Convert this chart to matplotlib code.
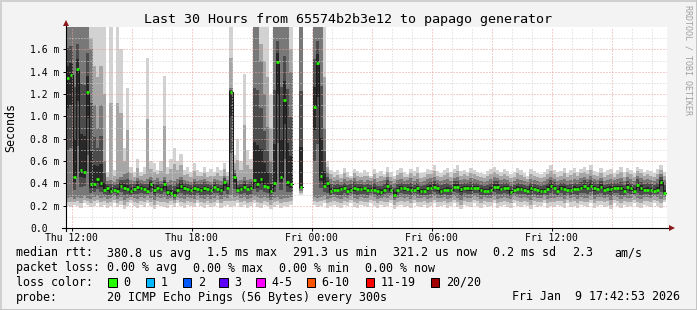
import numpy as np
import matplotlib.pyplot as plt
from matplotlib.patches import Rectangle

nan = np.nan

# one column = 10 minutes, start is Thu 11:42:53, 30 hours shown
STEP_H = 10 / 60.0
FIRST_TICK_H = 17.12 / 60.0     # Thu 12:00 relative to start

# median rtt per column (ms)
med = [1.34, 1.37, 0.46, 1.42, 0.52, 0.50, 1.22, 0.39, 0.39, 0.44,
       0.40, 0.34, 0.36, 0.33, 0.34, 0.33, 0.38, 0.36, 0.35, 0.33,
       0.35, 0.37, 0.36, 0.35, 0.33, 0.39, 0.34, 0.36, 0.35, 0.39,
       0.32, 0.31, 0.30, 0.34, 0.38, 0.36, 0.35, 0.34, 0.36, 0.35,
       0.34, 0.36, 0.35, 0.34, 0.37, 0.35, 0.34, 0.41, 0.36, 1.22,
       0.46, 0.34, 0.35, 0.37, 0.35, 0.36, 0.43, 0.39, 0.44, 0.38,
       0.37, 0.33, 0.40, 1.49, 0.46, 1.15, 0.41, 0.39, nan, nan,
       0.37, nan, nan, nan, 1.08, 1.48, 0.47, 0.38, 0.40, 0.33,
       0.34, 0.34, 0.35, 0.355, 0.33, 0.34, 0.355, 0.35, 0.35, 0.355,
       0.34, 0.34, 0.34, 0.33, 0.32, 0.34, 0.38, 0.34, 0.30, 0.34,
       0.355, 0.355, 0.35, 0.34, 0.34, 0.355, 0.33, 0.33, 0.355, 0.36,
       0.37, 0.355, 0.33, 0.34, 0.34, 0.34, 0.37, 0.37, 0.35, 0.355,
       0.355, 0.355, 0.355, 0.355, 0.34, 0.33, 0.33, 0.34, 0.37, 0.37,
       0.35, 0.355, 0.355, 0.32, 0.34, 0.35, 0.35, 0.34, 0.33, 0.355,
       0.35, 0.34, 0.33, 0.33, 0.35, 0.38, 0.36, 0.33, 0.355, 0.35,
       0.34, 0.34, 0.35, 0.35, 0.355, 0.375, 0.36, 0.38, 0.36, 0.35,
       0.37, 0.34, 0.345, 0.35, 0.355, 0.355, 0.355, 0.33, 0.37, 0.355,
       0.33, 0.385, 0.36, 0.34, 0.34, 0.34, 0.33, 0.34, 0.415, 0.31]

# smoke: fastest ping per column
smoke_min = [0.20, 0.19, 0.21, 0.20, 0.18, 0.22, 0.21, 0.19, 0.20, 0.22,
             0.19, 0.21, 0.18, 0.20, 0.22, 0.19, 0.21, 0.17, 0.20, 0.22,
             0.20, 0.18, 0.21, 0.19, 0.22, 0.20, 0.17, 0.21, 0.20, 0.19,
             0.18, 0.21, 0.19, 0.22, 0.20, 0.18, 0.21, 0.20, 0.19, 0.22,
             0.20, 0.18, 0.21, 0.19, 0.20, 0.22, 0.18, 0.20, 0.21, 0.19,
             0.20, 0.22, 0.19, 0.21, 0.18, 0.20, 0.22, 0.19, 0.18, 0.21,
             0.20, 0.17, 0.19, 0.21, 0.18, 0.20, 0.19, 0.21, nan, nan,
             0.30, nan, nan, nan, 0.21, 0.19, 0.20, 0.22, 0.18, 0.20,
             0.21, 0.19, 0.18, 0.21, 0.20, 0.22, 0.19, 0.18, 0.21, 0.20,
             0.19, 0.22, 0.20, 0.18, 0.21, 0.19, 0.20, 0.22, 0.17, 0.20,
             0.21, 0.19, 0.20, 0.18, 0.22, 0.20, 0.19, 0.21, 0.18, 0.20,
             0.22, 0.19, 0.20, 0.21, 0.18, 0.20, 0.22, 0.19, 0.17, 0.21,
             0.20, 0.19, 0.22, 0.20, 0.18, 0.21, 0.19, 0.20, 0.22, 0.18,
             0.20, 0.21, 0.19, 0.18, 0.22, 0.20, 0.19, 0.21, 0.20, 0.17,
             0.21, 0.19, 0.20, 0.22, 0.18, 0.20, 0.19, 0.21, 0.20, 0.18,
             0.22, 0.19, 0.20, 0.18, 0.21, 0.20, 0.19, 0.22, 0.18, 0.20,
             0.21, 0.19, 0.20, 0.17, 0.22, 0.20, 0.18, 0.21, 0.19, 0.20,
             0.22, 0.19, 0.18, 0.21, 0.20, 0.19, 0.22, 0.20, 0.18, 0.23]

# smoke: lower edge of the dense part
smoke_lo = [0.27, 0.28, 0.26, 0.28, 0.27, 0.29, 0.27, 0.26, 0.28, 0.29,
            0.27, 0.28, 0.26, 0.27, 0.29, 0.26, 0.28, 0.25, 0.27, 0.28,
            0.27, 0.26, 0.28, 0.27, 0.29, 0.27, 0.25, 0.28, 0.27, 0.28,
            0.26, 0.27, 0.25, 0.28, 0.27, 0.26, 0.28, 0.27, 0.26, 0.29,
            0.27, 0.26, 0.28, 0.26, 0.27, 0.29, 0.26, 0.28, 0.27, 0.30,
            0.28, 0.29, 0.27, 0.28, 0.26, 0.27, 0.29, 0.28, 0.27, 0.28,
            0.27, 0.25, 0.27, 0.28, 0.26, 0.27, 0.27, 0.28, nan, nan,
            0.33, nan, nan, nan, 0.28, 0.27, 0.28, 0.29, 0.26, 0.27,
            0.28, 0.27, 0.26, 0.28, 0.27, 0.29, 0.27, 0.26, 0.28, 0.27,
            0.27, 0.29, 0.28, 0.26, 0.27, 0.28, 0.27, 0.29, 0.25, 0.27,
            0.28, 0.27, 0.28, 0.26, 0.29, 0.27, 0.27, 0.28, 0.26, 0.27,
            0.29, 0.27, 0.27, 0.28, 0.26, 0.27, 0.29, 0.27, 0.25, 0.28,
            0.27, 0.27, 0.29, 0.28, 0.26, 0.28, 0.27, 0.27, 0.29, 0.26,
            0.27, 0.28, 0.27, 0.26, 0.29, 0.28, 0.27, 0.28, 0.27, 0.25,
            0.28, 0.27, 0.27, 0.29, 0.26, 0.27, 0.27, 0.28, 0.28, 0.26,
            0.29, 0.27, 0.28, 0.26, 0.28, 0.27, 0.27, 0.29, 0.26, 0.28,
            0.28, 0.27, 0.28, 0.25, 0.29, 0.28, 0.26, 0.28, 0.27, 0.27,
            0.29, 0.27, 0.26, 0.28, 0.28, 0.27, 0.29, 0.28, 0.26, 0.28]

# smoke: upper edge of the dense part
smoke_hi = [1.80, 1.80, 1.80, 1.80, 1.80, 1.80, 1.80, 1.60, 1.10, 0.90,
            1.10, 0.60, 0.42, 0.43, 0.41, 0.44, 0.46, 0.48, 0.50, 0.43,
            0.42, 0.45, 0.43, 0.42, 0.44, 0.46, 0.43, 0.45, 0.42, 0.46,
            0.41, 0.43, 0.42, 0.44, 0.46, 0.43, 0.42, 0.41, 0.44, 0.42,
            0.43, 0.44, 0.42, 0.41, 0.44, 0.43, 0.42, 0.47, 0.43, 1.25,
            0.52, 0.42, 0.43, 0.46, 0.43, 0.44, 1.80, 1.80, 1.50, 1.20,
            0.90, 0.60, 1.80, 1.80, 1.80, 1.80, 1.80, 1.40, nan, nan,
            1.80, nan, nan, nan, 1.80, 1.80, 1.80, 0.90, 0.50, 0.44,
            0.42, 0.43, 0.41, 0.44, 0.42, 0.43, 0.45, 0.42, 0.43, 0.41,
            0.43, 0.42, 0.44, 0.41, 0.42, 0.43, 0.46, 0.42, 0.40, 0.43,
            0.44, 0.42, 0.43, 0.45, 0.42, 0.44, 0.41, 0.42, 0.44, 0.45,
            0.46, 0.43, 0.42, 0.43, 0.44, 0.42, 0.45, 0.46, 0.43, 0.44,
            0.43, 0.45, 0.44, 0.43, 0.42, 0.41, 0.42, 0.44, 0.46, 0.45,
            0.43, 0.44, 0.43, 0.41, 0.42, 0.44, 0.43, 0.42, 0.41, 0.44,
            0.43, 0.42, 0.41, 0.42, 0.44, 0.46, 0.44, 0.42, 0.43, 0.44,
            0.42, 0.43, 0.44, 0.43, 0.45, 0.46, 0.44, 0.47, 0.44, 0.43,
            0.45, 0.42, 0.43, 0.44, 0.43, 0.44, 0.45, 0.42, 0.46, 0.44,
            0.42, 0.47, 0.45, 0.43, 0.44, 0.43, 0.42, 0.44, 0.48, 0.43]

# smoke: slowest ping per column (1.8 = off the top)
smoke_max = [1.80, 1.80, 1.80, 1.80, 1.80, 1.80, 1.80, 1.80, 1.80, 1.80,
             1.80, 1.80, 0.50, 1.80, 0.52, 1.80, 1.60, 0.72, 1.25, 0.55,
             0.50, 0.62, 0.50, 0.55, 1.52, 0.60, 0.58, 0.52, 0.60, 1.36,
             0.55, 0.62, 0.72, 0.60, 0.66, 0.52, 0.55, 0.50, 0.58, 0.52,
             0.50, 0.55, 0.50, 0.53, 0.50, 0.55, 0.52, 0.58, 0.50, 1.80,
             0.65, 0.80, 0.60, 1.38, 0.70, 0.62, 1.80, 1.80, 1.80, 1.80,
             1.80, 1.19, 1.80, 1.80, 1.80, 1.80, 1.80, 1.80, nan, nan,
             1.80, nan, nan, nan, 1.80, 1.80, 1.80, 1.80, 0.60, 0.52,
             0.50, 0.52, 0.48, 0.54, 0.50, 0.47, 0.53, 0.51, 0.49, 0.52,
             0.50, 0.47, 0.53, 0.49, 0.51, 0.48, 0.55, 0.50, 0.47, 0.52,
             0.54, 0.50, 0.48, 0.53, 0.51, 0.55, 0.49, 0.50, 0.53, 0.52,
             0.56, 0.51, 0.49, 0.52, 0.54, 0.50, 0.53, 0.56, 0.51, 0.52,
             0.50, 0.54, 0.52, 0.50, 0.49, 0.48, 0.51, 0.53, 0.55, 0.52,
             0.50, 0.53, 0.51, 0.48, 0.50, 0.54, 0.52, 0.49, 0.47, 0.53,
             0.51, 0.49, 0.48, 0.50, 0.53, 0.56, 0.52, 0.50, 0.51, 0.54,
             0.49, 0.52, 0.54, 0.50, 0.53, 0.55, 0.52, 0.56, 0.51, 0.50,
             0.54, 0.50, 0.52, 0.53, 0.49, 0.52, 0.55, 0.50, 0.54, 0.52,
             0.49, 0.55, 0.53, 0.50, 0.52, 0.51, 0.49, 0.53, 0.56, 0.50]

xtick_labels = ['Thu 12:00', 'Thu 18:00', 'Fri 00:00', 'Fri 06:00', 'Fri 12:00']
ytick_values = [0.0, 0.2, 0.4, 0.6, 0.8, 1.0, 1.2, 1.4, 1.6]
ytick_labels = ['0.0', '0.2 m', '0.4 m', '0.6 m', '0.8 m', '1.0 m', '1.2 m', '1.4 m', '1.6 m']

loss_labels = ['0', '1', '2', '3', '4-5', '6-10', '11-19', '20/20']
loss_colors = ['#26ff00', '#00b8ff', '#0059ff', '#5e00ff', '#ff00ff', '#ff5500', '#ff0000', '#a10000']

W, H = 697, 310
MONO = 'DejaVu Sans Mono'

fig = plt.figure(figsize=(W / 100, H / 100), dpi=100, facecolor='#f3f3f3')
ax = fig.add_axes([66 / W, (H - 228) / H, 601 / W, 201 / H])
ax.set_facecolor('white')
ax.set_xlim(0, 30.05)
ax.set_ylim(0, 1.8)

md = np.array(med)
mn = np.array(smoke_min)
lo = np.array(smoke_lo)
hi = np.array(smoke_hi)
mx = np.array(smoke_max)
t = np.arange(len(md)) * STEP_H

# smoke layers, lightest outside, darkest around the median
layers = [
    (mn, mx),
    ((mn + lo) / 2, (mx + hi) / 2),
    (lo, hi),
    (lo + (md - lo) * 0.4, hi - (hi - md) * 0.4),
    (lo + (md - lo) * 0.75, hi - (hi - md) * 0.75),
]
shades = ['#d2d2d2', '#a6a6a6', '#787878', '#4c4c4c', '#282828']
for (bot, top), c in zip(layers, shades):
    ax.bar(t, top - bot, bottom=bot, width=STEP_H, align='edge', color=c,
           linewidth=0, antialiased=False, zorder=1)

# dotted grid on top of the smoke
for k, h in enumerate(np.arange(FIRST_TICK_H, 30.05, 1.0)):
    col = '#e6a0a0' if k % 3 == 0 else '#d2d2d2'
    ax.axvline(h, color=col, lw=0.72, ls=(0, (1, 2)), zorder=2)
for k in range(1, 18):
    col = '#e6a0a0' if k % 2 == 0 else '#d2d2d2'
    ax.axhline(k * 0.1, color=col, lw=0.72, ls=(0, (1, 2)), zorder=2)

# median line
t_edge = np.append(t, t[-1] + STEP_H)
ax.step(t_edge, np.append(md, md[-1]), where='post', color='#1a1a1a', lw=0.72, zorder=3)
ax.hlines(md, t + STEP_H * 0.1, t + STEP_H * 0.9, colors='#26ff00', lw=1.9, zorder=4)

# axes with arrows
for s in ax.spines.values():
    s.set_visible(False)
ax.plot([-4 / 601, 1 + 3 / 601], [0, 0], transform=ax.transAxes, color='black',
        lw=0.8, clip_on=False, zorder=5)
ax.plot([0, 0], [-3 / 201, 1 + 2 / 201], transform=ax.transAxes, color='black',
        lw=0.8, clip_on=False, zorder=5)
ax.plot([1 + 5 / 601], [0], marker='>', ms=4.5, color='#8b1a1a', mew=0,
        transform=ax.transAxes, clip_on=False, zorder=6)
ax.plot([0], [1 + 4 / 201], marker='^', ms=4.5, color='#8b1a1a', mew=0,
        transform=ax.transAxes, clip_on=False, zorder=6)

ax.set_xticks([FIRST_TICK_H + 6 * k for k in range(len(xtick_labels))])
ax.set_xticklabels(xtick_labels, family=MONO, fontsize=7)
ax.set_yticks(ytick_values)
ax.set_yticklabels(ytick_labels, family=MONO, fontsize=7, ha='left')
ax.tick_params(axis='x', length=2, width=0.7, pad=1.6, direction='out')
ax.tick_params(axis='y', length=2, width=0.7, pad=24, direction='out')


def ftext(x, y, s, **kw):
    kw.setdefault('fontsize', 8.4)
    kw.setdefault('va', 'center')
    fig.text(x / W, 1 - y / H, s, family=MONO, **kw)


ftext(348, 19, 'Last 30 Hours from 65574b2b3e12 to papago generator', fontsize=9.6, ha='center')
ftext(11, 128, 'Seconds', rotation=90, ha='center')
ftext(688, 60, 'RRDTOOL / TOBI OETIKER', fontsize=6, rotation=270, ha='center', color='#a0a0a0')

# legend rows
ftext(16, 253, 'median rtt:')
for x, s in [(107, '380.8 us avg'), (206.7, '1.5 ms max'), (293.3, '291.3 us min'),
             (393.3, '321.2 us now'), (493.3, '0.2 ms sd'), (571.7, '2.3'), (614, 'am/s')]:
    ftext(x, 253, s)

ftext(16, 268, 'packet loss:')
for x, s in [(107.3, '0.00 % avg'), (193.3, '0.00 % max'), (279.3, '0.00 % min'), (365, '0.00 % now')]:
    ftext(x, 268, s)

ftext(16, 282, 'loss color:')
box_x = [108.3, 145.7, 182.7, 219.3, 256, 306.7, 365.7, 430.7]
for bx, lab, c in zip(box_x, loss_labels, loss_colors):
    fig.add_artist(Rectangle((bx / W, 1 - 286.5 / H), 8.5 / W, 8.5 / H, facecolor=c,
                             edgecolor='black', lw=0.72, transform=fig.transFigure))
    ftext(bx + 15, 282, lab)

ftext(16, 297, 'probe:')
ftext(107, 297, '20 ICMP Echo Pings (56 Bytes) every 300s')
ftext(680, 297, 'Fri Jan  9 17:42:53 2026', ha='right')

# frame
fig.add_artist(plt.Line2D([0, 1], [1 - 0.5 / H, 1 - 0.5 / H], color='#d0d0d0', lw=1.4, transform=fig.transFigure))
fig.add_artist(plt.Line2D([0.5 / W, 0.5 / W], [0, 1], color='#d0d0d0', lw=1.4, transform=fig.transFigure))
fig.add_artist(plt.Line2D([0, 1], [0.5 / H, 0.5 / H], color='#c4c4c4', lw=1.4, transform=fig.transFigure))
fig.add_artist(plt.Line2D([1 - 0.5 / W, 1 - 0.5 / W], [0, 1], color='#c4c4c4', lw=1.4, transform=fig.transFigure))

fig.savefig('out.png', dpi=100, facecolor=fig.get_facecolor())
